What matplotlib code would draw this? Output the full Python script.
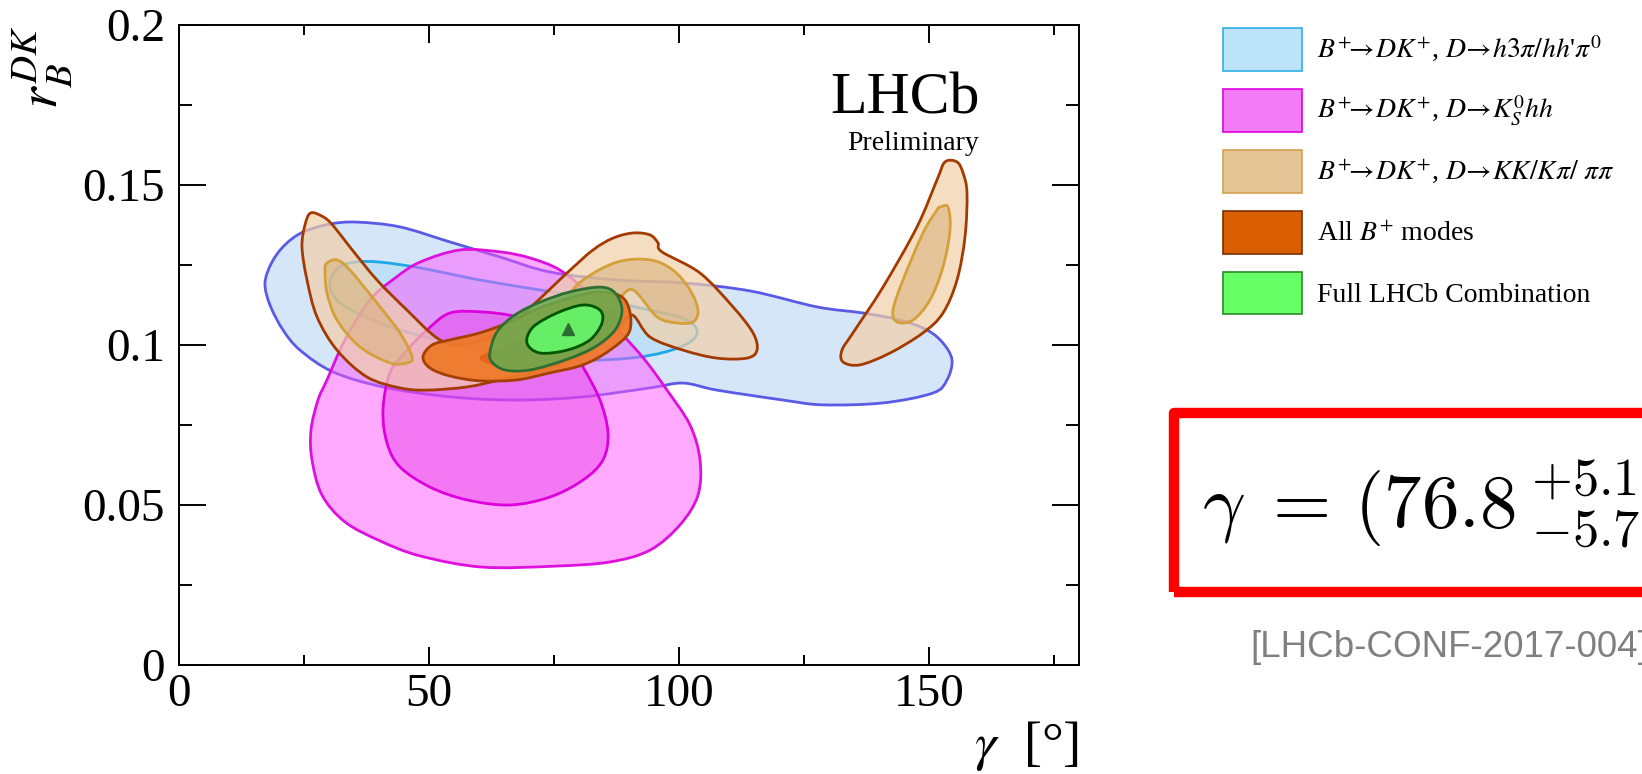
import matplotlib
matplotlib.use("Agg")
import matplotlib.pyplot as plt
import numpy as np
from matplotlib.path import Path
from matplotlib.patches import PathPatch, Patch, Rectangle
from matplotlib.colors import to_rgba

# axis ticks
gamma_ticks = [0, 50, 100, 150]
gamma_labels = ["0", "50", "100", "150"]
gamma_minor = [25, 75, 125, 175]
r_ticks = [0, 0.05, 0.1, 0.15, 0.2]
r_labels = ["0", "0.05", "0.1", "0.15", "0.2"]
r_minor = [0.025, 0.075, 0.125, 0.175]

# contours, (gamma [deg], r_B^DK)
# B+ -> DK+, D -> h3pi/hh'pi0
blue_2s = [(17.2, 0.1194), (18.6, 0.1259), (21.2, 0.1313), (24.8, 0.1353), (30.2, 0.1378),
           (35.6, 0.1384), (44.2, 0.1369), (54.2, 0.1322), (64.2, 0.1275), (74.2, 0.1228),
           (87.6, 0.1203), (100.8, 0.1194), (114.2, 0.1169), (127.6, 0.1119), (136.8, 0.1100),
           (144.2, 0.1078), (149.6, 0.1047), (152.8, 0.1006), (154.6, 0.0953), (153.6, 0.0891),
           (150.8, 0.0850), (140.8, 0.0819), (128.8, 0.0813), (120.8, 0.0828), (107.6, 0.0859),
           (100.8, 0.0881), (94.2, 0.0866), (80.8, 0.0838), (67.6, 0.0828), (54.2, 0.0838),
           (40.8, 0.0869), (30.8, 0.0916), (24.2, 0.0984), (20.8, 0.1047), (18.2, 0.1125)]
blue_1s = [(30.2, 0.1194), (31.8, 0.1241), (35.2, 0.1259), (40.2, 0.1259), (48.2, 0.1241),
           (60.2, 0.1203), (72.2, 0.1172), (84.2, 0.1141), (94.2, 0.1109), (100.8, 0.1084),
           (103.6, 0.1047), (102.2, 0.1009), (97.2, 0.0978), (90.2, 0.0959), (80.2, 0.0953),
           (68.2, 0.0969), (56.2, 0.1000), (44.2, 0.1047), (35.2, 0.1103), (31.2, 0.1147)]
# B+ -> DK+, D -> KS hh
pink_2s = [(26.6, 0.0641), (26.4, 0.0734), (27.8, 0.0828), (29.6, 0.0891), (33.2, 0.1016),
           (38.2, 0.1141), (43.2, 0.1209), (48.2, 0.1259), (56.2, 0.1297), (64.2, 0.1291),
           (70.2, 0.1272), (76.2, 0.1234), (82.2, 0.1156), (87.6, 0.1053), (93.2, 0.0953),
           (97.6, 0.0859), (102.2, 0.0750), (104.2, 0.0641), (103.8, 0.0531), (100.2, 0.0438),
           (94.2, 0.0359), (86.2, 0.0322), (75.2, 0.0309), (60.6, 0.0306), (48.2, 0.0341),
           (40.2, 0.0388), (33.2, 0.0447), (28.6, 0.0531)]
pink_1s = [(40.8, 0.0797), (42.2, 0.0913), (45.6, 0.0984), (49.6, 0.1047), (54.2, 0.1100),
           (60.8, 0.1103), (67.6, 0.1088), (74.2, 0.1047), (78.2, 0.0991), (80.8, 0.0931),
           (84.2, 0.0828), (85.8, 0.0725), (84.8, 0.0641), (80.8, 0.0578), (74.2, 0.0525),
           (66.2, 0.0500), (57.6, 0.0516), (50.2, 0.0556), (44.2, 0.0619), (41.6, 0.0694)]
# B+ -> DK+, D -> KK/Kpi/pipi
tan_2s_main = [(26.4, 0.1413), (29.2, 0.1397), (31.2, 0.1366), (34.2, 0.1306), (39.6, 0.1203),
               (45.6, 0.1109), (51.6, 0.1022), (56.2, 0.1000), (64.2, 0.1038), (70.8, 0.1125),
               (77.6, 0.1225), (82.8, 0.1297), (86.8, 0.1334), (90.8, 0.1350), (94.2, 0.1344),
               (95.8, 0.1319), (96.6, 0.1291), (104.2, 0.1225), (110.8, 0.1119), (114.8, 0.1038),
               (115.6, 0.0984), (113.6, 0.0959), (107.6, 0.0959), (100.8, 0.0984), (94.2, 0.1025),
               (90.6, 0.1094), (87.6, 0.1047), (82.2, 0.0984), (74.2, 0.0928), (64.2, 0.0891),
               (57.6, 0.0869), (49.6, 0.0859), (44.2, 0.0866), (37.6, 0.0900), (31.6, 0.0984),
               (27.6, 0.1088), (25.6, 0.1203), (24.6, 0.1306), (25.2, 0.1375)]
tan_2s_right = [(153.2, 0.1572), (155.6, 0.1572), (156.8, 0.1538), (157.6, 0.1475), (157.2, 0.1338),
                (155.6, 0.1203), (152.8, 0.1100), (148.8, 0.1038), (142.2, 0.0975), (136.2, 0.0938),
                (132.8, 0.0947), (132.6, 0.0984), (134.8, 0.1038), (140.8, 0.1181), (147.6, 0.1369),
                (151.6, 0.1516)]
tan_1s_left = [(29.6, 0.1256), (31.6, 0.1266), (34.2, 0.1234), (39.6, 0.1131), (44.2, 0.1038),
               (46.6, 0.0963), (45.6, 0.0944), (42.2, 0.0944), (36.2, 0.0994), (31.6, 0.1078),
               (29.6, 0.1163), (29.2, 0.1234)]
tan_1s_mid = [(77.6, 0.1141), (80.8, 0.1203), (87.6, 0.1259), (94.2, 0.1266), (98.8, 0.1234),
              (102.2, 0.1172), (103.8, 0.1109), (102.8, 0.1072), (99.6, 0.1069), (95.6, 0.1088),
              (90.8, 0.1172), (87.6, 0.1141), (82.2, 0.1094), (78.2, 0.1084)]
tan_1s_right = [(152.2, 0.1431), (153.8, 0.1431), (154.2, 0.1359), (152.8, 0.1244), (150.2, 0.1141),
                (146.8, 0.1078), (143.6, 0.1072), (142.8, 0.1109), (144.8, 0.1203), (148.8, 0.1350),
                (151.6, 0.1422)]
# all B+ modes
orange_2s = [(48.8, 0.0963), (50.6, 0.1000), (54.2, 0.1016), (60.2, 0.1038), (66.2, 0.1072),
             (72.2, 0.1116), (78.2, 0.1147), (84.2, 0.1166), (89.2, 0.1141), (90.2, 0.1047),
             (86.2, 0.0984), (80.8, 0.0938), (74.2, 0.0913), (67.6, 0.0891), (60.2, 0.0888),
             (54.2, 0.0903), (50.2, 0.0928)]
orange_1s = [(60.8, 0.0969), (68.2, 0.1016), (76.2, 0.1078), (84.2, 0.1125), (88.2, 0.1078),
             (84.2, 0.1000), (76.2, 0.0947), (66.2, 0.0928), (61.2, 0.0947)]
# full LHCb combination
green_2s = [(62.2, 0.0978), (63.6, 0.1041), (67.2, 0.1094), (72.2, 0.1134), (78.2, 0.1166),
            (84.2, 0.1181), (87.2, 0.1163), (88.6, 0.1109), (87.2, 0.1047), (83.2, 0.0994),
            (77.2, 0.0953), (70.2, 0.0922), (65.2, 0.0922), (62.6, 0.0947)]
green_1s = [(69.6, 0.1006), (70.8, 0.1056), (75.6, 0.1100), (80.8, 0.1125), (84.2, 0.1109),
            (84.6, 0.1069), (82.2, 0.1016), (77.6, 0.0984), (72.2, 0.0975)]
best_fit = (77.8, 0.105)

legend_labels = [r"$B^{+}\!\!\to\! DK^{+}$, $D\!\to\! h3\pi/hh$'$\pi^{0}$",
                 r"$B^{+}\!\!\to\! DK^{+}$, $D\!\to\! K^{0}_{S}hh$",
                 r"$B^{+}\!\!\to\! DK^{+}$, $D\!\to\! KK/K\pi/\ \pi\pi$",
                 r"All $B^{+}$ modes",
                 "Full LHCb Combination"]
legend_face = ["#bde3f8", "#f27bf7", "#e4c596", "#d95f02", "#66ff66"]
legend_edge = ["#30b0e8", "#e000e0", "#d4a050", "#7a3000", "#2a8a2a"]


def smooth_patch(pts, fc, alpha, ec, lw=2.0, z=1):
    # closed Catmull-Rom curve through the read points, drawn as bezier path
    p = np.array(pts, dtype=float)
    n = len(p)
    verts = [p[0]]
    codes = [Path.MOVETO]
    for i in range(n):
        p0, p1, p2, p3 = p[i - 1], p[i], p[(i + 1) % n], p[(i + 2) % n]
        verts += [p1 + (p2 - p0) / 6.0, p2 - (p3 - p1) / 6.0, p2]
        codes += [Path.CURVE4] * 3
    verts.append(p[0])
    codes.append(Path.CLOSEPOLY)
    return PathPatch(Path(verts, codes), facecolor=to_rgba(fc, alpha),
                     edgecolor=ec, lw=lw, zorder=z, joinstyle="round")


plt.rcParams['font.family'] = 'serif'
plt.rcParams['font.serif'] = ['Liberation Serif', 'DejaVu Serif']
plt.rcParams['mathtext.fontset'] = 'stix'

W, H = 1642, 774
fig = plt.figure(figsize=(W / 100, H / 100), dpi=100)
ax = fig.add_axes([179 / W, 1 - 665 / H, 900 / W, 640 / H])

# contours, back to front
ax.add_patch(smooth_patch(blue_2s, "#c9def8", 0.75, "#5a5ae6", z=1))
ax.add_patch(smooth_patch(blue_1s, "#a8dcf6", 0.5, "#1ea8e8", z=2))
ax.add_patch(smooth_patch(pink_2s, "#ff55ff", 0.5, "#dd10dd", z=3))
ax.add_patch(smooth_patch(pink_1s, "#e633e6", 0.42, "#dd00dd", z=4))
ax.add_patch(smooth_patch(tan_2s_main, "#f2cfa8", 0.7, "#a33a00", z=5))
ax.add_patch(smooth_patch(tan_2s_right, "#f2cfa8", 0.7, "#a33a00", z=5))
for isl in [tan_1s_left, tan_1s_mid, tan_1s_right]:
    ax.add_patch(smooth_patch(isl, "#d8b07a", 0.55, "#d4a03a", z=6))
ax.add_patch(smooth_patch(orange_2s, "#ee7a2a", 0.95, "#a34000", z=7))
ax.add_patch(smooth_patch(orange_1s, "#e4631a", 0.9, "#e4631a", lw=0.5, z=8))
ax.add_patch(smooth_patch(green_2s, "#68ad50", 0.85, "#2f6e33", z=9))
ax.add_patch(smooth_patch(green_1s, "#66ee66", 1.0, "#005500", z=10))
ax.plot([best_fit[0]], [best_fit[1]], marker="^", ms=9, color="#2e6b30", zorder=11)

ax.set_xlim(0, 180)
ax.set_ylim(0, 0.2)
ax.set_xticks(gamma_ticks)
ax.set_xticklabels(gamma_labels)
ax.set_xticks(gamma_minor, minor=True)
ax.set_yticks(r_ticks)
ax.set_yticklabels(r_labels)
ax.set_yticks(r_minor, minor=True)
ax.tick_params(which="both", direction="in", top=True, right=True, width=1.4,
               labelsize=34, colors="black")
ax.tick_params(axis="x", which="major", length=13, pad=6)
ax.tick_params(axis="x", which="minor", length=7.5)
ax.tick_params(axis="y", which="major", length=19.5, pad=10)
ax.tick_params(axis="y", which="minor", length=9.5)
for s in ax.spines.values():
    s.set_linewidth(1.4)

# axis titles
fig.text(1079 / W, 1 - 760 / H, r"$\gamma$  [°]", fontsize=39, ha="right", va="baseline")
fig.text(43 / W, 1 - 26 / H, r"$r_{B}^{DK}$", fontsize=40, rotation=90, ha="center", va="top")

# LHCb label
fig.text(980 / W, 1 - 114 / H, "LHCb", fontsize=43, ha="right", va="baseline")
fig.text(979 / W, 1 - 150 / H, "Preliminary", fontsize=20, ha="right", va="baseline")

# legend
handles = [Patch(facecolor=f, edgecolor=e, lw=1.2) for f, e in zip(legend_face, legend_edge)]
fig.legend(handles, legend_labels, loc="upper left", bbox_to_anchor=(1223 / W, 1 - 28 / H),
           frameon=False, fontsize=20, handlelength=2.84, handleheight=2.0,
           labelspacing=0.647, handletextpad=0.54, borderpad=0, borderaxespad=0)

# result box
fig.add_artist(Rectangle((1173.5 / W, 1 - 592 / H), 600 / W, 179.5 / H, transform=fig.transFigure,
                         facecolor="none", edgecolor="#ff0000", lw=7.5, joinstyle="round"))
fig.text(1202 / W, 1 - 528 / H, r"$\gamma\;=\,(76.8\,{}^{+5.1}_{-5.7})^{\circ}$", fontsize=54,
         math_fontfamily="cm", ha="left", va="baseline")
fig.text(1250 / W, 1 - 657 / H, "[LHCb-CONF-2017-004]", fontsize=26.5, color="#808080",
         family="Liberation Sans", ha="left", va="baseline")

fig.savefig("out.png", dpi=100)
